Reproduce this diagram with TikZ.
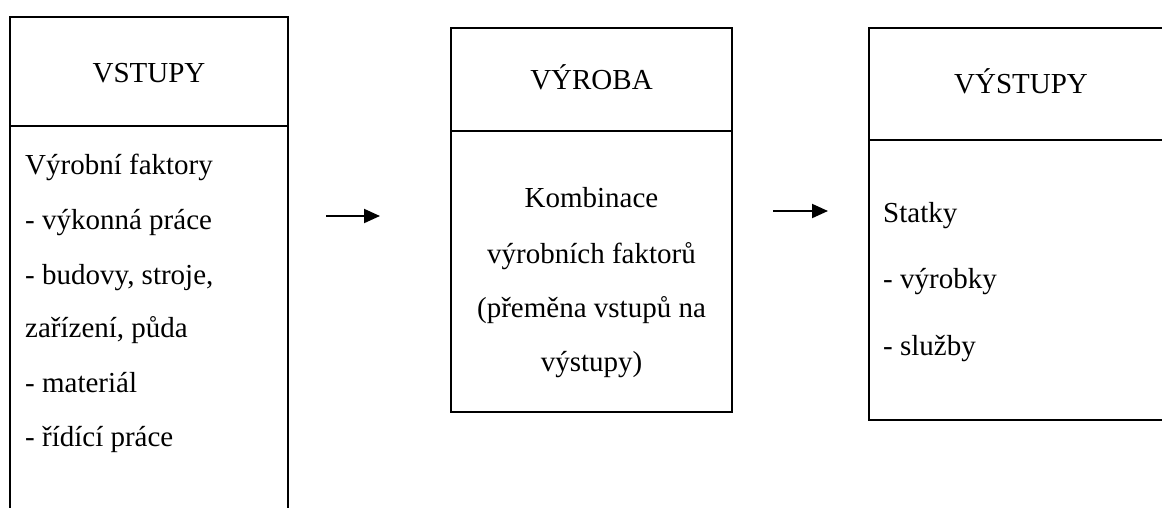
\documentclass[tikz,border=0pt]{standalone}
\usepackage{fontspec}
\setmainfont{Liberation Serif}
\usetikzlibrary{arrows.meta}
\begin{document}
\begin{tikzpicture}[x=1pt,y=-1pt,
  frame/.style={draw=black,line width=2pt,inner sep=0pt,outer sep=0pt,rectangle},
  txt/.style={inner sep=0pt,font=\fontsize{29}{35}\selectfont},
  flow/.style={line width=2pt,-{Triangle[length=16pt,width=14pt]}}]
\useasboundingbox (0,0) rectangle (1162,507);
\clip (0,0) rectangle (1162,507);

% inputs column (open at the bottom)
\node[frame,minimum width=278pt,minimum height=108.5pt] (inHead) at (149,71.25) {};
\node[frame,minimum width=278pt,minimum height=404.5pt] (inBody) at (149,327.75) {};
\node[txt,anchor=base] (inTitle) at (149,82) {VSTUPY};
\node[txt,anchor=base west] (in1) at (25,174) {Výrobní faktory};
\node[txt,anchor=base west] (in2) at (25,229) {- výkonná práce};
\node[txt,anchor=base west] (in3) at (25,284) {- budovy, stroje,};
\node[txt,anchor=base west] (in4) at (25,337) {zařízení, půda};
\node[txt,anchor=base west] (in5) at (25,392) {- materiál};
\node[txt,anchor=base west] (in6) at (25,446) {- řídící práce};

% production column
\node[frame,minimum width=281pt,minimum height=103.5pt] (prHead) at (591.5,79.25) {};
\node[frame,minimum width=281pt,minimum height=281pt] (prBody) at (591.5,271.5) {};
\node[txt,anchor=base] (prTitle) at (591.5,89) {VÝROBA};
\node[txt,anchor=base] (pr1) at (591.5,207) {Kombinace};
\node[txt,anchor=base] (pr2) at (591.5,263) {výrobních faktorů};
\node[txt,anchor=base] (pr3) at (591.5,317) {(přeměna vstupů na};
\node[txt,anchor=base] (pr4) at (591.5,371) {výstupy)};

% outputs column (runs past the right edge)
\node[frame,minimum width=304pt,minimum height=112.5pt] (outHead) at (1021,83.75) {};
\node[frame,minimum width=304pt,minimum height=280pt] (outBody) at (1021,280) {};
\node[txt,anchor=base] (outTitle) at (1021,93) {VÝSTUPY};
\node[txt,anchor=base west] (out1) at (883,222) {Statky};
\node[txt,anchor=base west] (out2) at (883,288) {- výrobky};
\node[txt,anchor=base west] (out3) at (883,355) {- služby};

% flow arrows
\coordinate (f1s) at (326,216);
\coordinate (f1e) at (380,216);
\coordinate (f2s) at (773,211);
\coordinate (f2e) at (828,211);
\draw[flow] (f1s) -- (f1e);
\draw[flow] (f2s) -- (f2e);
\end{tikzpicture}
\end{document}
